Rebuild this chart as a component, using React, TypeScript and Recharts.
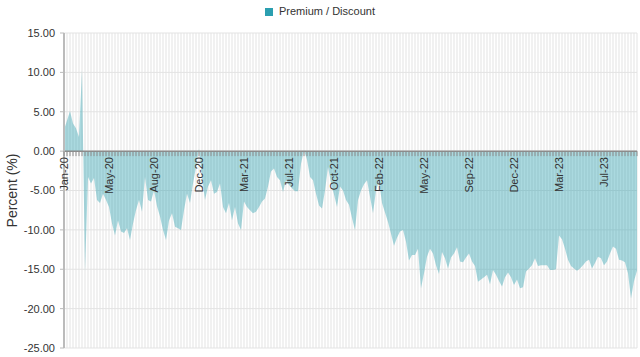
import { Area, AreaChart, CartesianGrid, ReferenceLine, XAxis, YAxis } from "recharts";

// weekly premium / discount, %
const VALUES = [
  2.7, 3.9, 5.1, 3.5, 2.9, 1.8, 10.3, -15.3, -3.3, -4.1, -3.4, -6.2, -6.6, -5.4, -6.2,
  -7.1, -9.2, -10.7, -8.8, -10.2, -10.4, -9.8, -11.3, -9.2, -7.5, -6.2, -7.7, -3.3, -6.2, -6.4,
  -5.0, -7.0, -8.3, -10.0, -11.3, -8.8, -7.9, -9.6, -9.8, -10.0, -7.5, -5.4, -6.6, -4.1, -2.0,
  0.3, -3.3, -6.2, -4.5, -3.7, -5.4, -5.2, -4.1, -7.1, -7.9, -6.6, -8.8, -7.1, -9.2, -10.0,
  -6.4, -7.1, -7.5, -7.9, -7.7, -7.1, -6.4, -6.0, -4.5, -2.6, -2.2, -3.3, -3.7, -5.2, -3.7,
  -4.3, -4.7, -5.1, -5.1, -1.6, 0.1, -1.1, -3.3, -3.7, -5.4, -6.9, -7.3, -5.0, -2.0, -4.0,
  -5.5, -7.1, -4.5, -5.0, -6.2, -6.8, -8.5, -10.0, -6.2, -5.0, -4.2, -3.7, -5.8, -7.9, -5.0,
  -3.8, -6.6, -7.8, -9.0, -10.5, -12.0, -11.0, -10.2, -10.0, -11.5, -13.9, -13.2, -13.2, -12.4, -17.4,
  -15.5, -13.4, -12.4, -13.0, -14.5, -15.6, -12.8, -13.6, -14.9, -13.5, -13.0, -12.2, -14.0, -14.1, -13.5,
  -13.0, -14.0, -14.6, -16.6, -16.3, -16.0, -15.7, -16.9, -15.1, -15.7, -16.5, -17.2, -16.0, -15.4, -16.0,
  -17.0, -16.3, -17.4, -17.3, -15.3, -14.9, -14.5, -13.6, -14.6, -14.5, -14.5, -14.5, -15.1, -15.1, -15.0,
  -10.7, -11.2, -12.4, -13.8, -14.6, -14.9, -15.2, -14.9, -14.5, -14.0, -13.8, -14.9, -14.2, -13.4, -13.6,
  -14.5, -14.0, -13.0, -12.1, -12.4, -13.8, -13.9, -14.1, -15.5, -18.7, -16.5, -15.2,
];

const TICK_LABELS = [
  "Jan-20", "May-20", "Aug-20", "Dec-20", "Mar-21", "Jul-21", "Oct-21",
  "Feb-22", "May-22", "Sep-22", "Dec-22", "Mar-23", "Jul-23",
];
const TICK_EVERY = 15;
const Y_TICKS = [-25, -20, -15, -10, -5, 0, 5, 10, 15];

const data = VALUES.map((value, i) => ({
  i,
  value,
  label: i % TICK_EVERY === 0 ? TICK_LABELS[i / TICK_EVERY] ?? "" : "",
}));

const W = 640;
const H = 357;
const MARGIN = { top: 33, right: 3, bottom: 8, left: 0 };
const X_AXIS_H = 1;
const PLOT_H = H - MARGIN.top - MARGIN.bottom - X_AXIS_H;
// x labels hang off the zero line, not the bottom of the plot
const ZERO_Y = MARGIN.top + (PLOT_H * 15) / 40;

const FILL = "#2b9fb0";
const FONT = "'Liberation Sans', Arial, sans-serif";

function DateTick({ x, payload }: any) {
  const row = data[payload.value];
  return (
    <g>
      <line x1={x} x2={x} y1={ZERO_Y} y2={ZERO_Y + 5} stroke="#8c8c8c" />
      {row && row.label ? (
        <text
          transform={`translate(${x},${ZERO_Y + 6}) rotate(-90)`}
          textAnchor="end"
          dominantBaseline="central"
          fontSize={11}
          fill="#333"
        >
          {row.label}
        </text>
      ) : null}
    </g>
  );
}

export default function App() {
  return (
    <div style={{ position: "relative", width: W, height: H, fontFamily: FONT, background: "#fff" }}>
      <style>{`body{margin:0}`}</style>
      <div
        style={{
          position: "absolute",
          top: 4,
          left: 0,
          width: W,
          textAlign: "center",
          fontSize: 11,
          color: "#333",
          lineHeight: "14px",
        }}
      >
        <span
          style={{
            display: "inline-block",
            width: 8,
            height: 8,
            background: FILL,
            marginRight: 6,
            verticalAlign: "-1px",
          }}
        />
        Premium / Discount
      </div>
      <AreaChart width={W} height={H} data={data} margin={MARGIN} style={{ fontFamily: FONT }}>
        <CartesianGrid stroke="#e3e3e3" />
        <XAxis
          dataKey="i"
          interval={0}
          height={X_AXIS_H}
          axisLine={false}
          tickLine={false}
          tick={<DateTick />}
        />
        <YAxis
          width={64}
          domain={[-25, 15]}
          ticks={Y_TICKS}
          tickFormatter={(v: number) => v.toFixed(2)}
          tick={{ fontSize: 11, fill: "#333" }}
          tickSize={4}
          tickMargin={5}
          axisLine={{ stroke: "#bbb", strokeWidth: 2 }}
          tickLine={{ stroke: "#bbb" }}
          label={{
            value: "Percent (%)",
            angle: -90,
            position: "insideLeft",
            offset: 12,
            style: { textAnchor: "middle", fontSize: 14, fill: "#333" },
          }}
        />
        <Area
          type="linear"
          dataKey="value"
          baseValue={0}
          stroke="none"
          fill={FILL}
          fillOpacity={0.4}
          isAnimationActive={false}
        />
        <ReferenceLine y={0} stroke="#8c8c8c" strokeWidth={1.5} />
      </AreaChart>
    </div>
  );
}
